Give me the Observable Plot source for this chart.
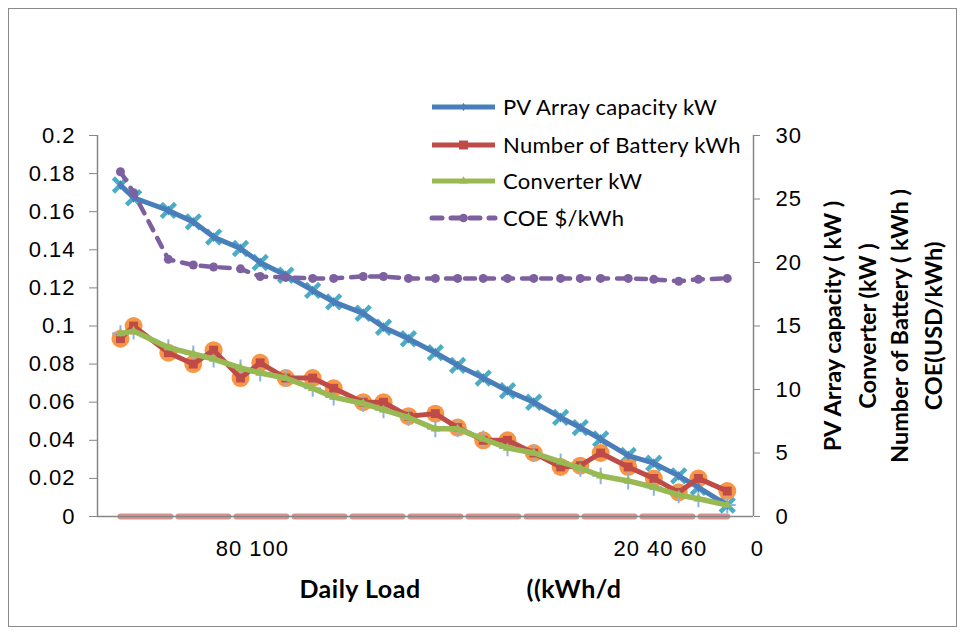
<!DOCTYPE html>
<html>
<head>
<meta charset="utf-8">
<script src="https://cdn.jsdelivr.net/npm/d3@7"></script>
<script src="https://cdn.jsdelivr.net/npm/@observablehq/plot@0.6"></script>
<style>
  html, body { margin: 0; padding: 0; background: #fff; }
  #wrap { position: relative; width: 967px; height: 633px; overflow: hidden; }
  #frame { position: absolute; left: 8px; top: 8px; width: 949px; height: 619px; border: 1.5px solid #8a8a8a; box-sizing: border-box; }
  .ytitle { position: absolute; font-family: Lato, sans-serif; font-weight: bold; font-size: 23.5px; color: #000; white-space: nowrap;
            transform: translate(-50%, -50%) rotate(-90deg); }
  .xtitle { position: absolute; font-family: Lato, sans-serif; font-weight: bold; font-size: 25px; letter-spacing: 0.5px; color: #000; white-space: nowrap; transform: translate(-50%, -50%); }
  #legend { position: absolute; left: 428px; top: 90px; }
</style>
</head>
<body>
<div id="wrap">
  <div id="frame"></div>
</div>
<script>
// ---- data ----
const loads = [3.5, 5.5, 10.8, 14.6, 17.7, 21.8, 24.8, 28.7, 32.8, 36.0, 40.5, 43.6, 47.4, 51.5, 54.9, 58.8, 62.5, 66.5, 70.6, 73.6, 76.7, 80.9, 84.8, 88.6, 91.6, 96.0];
const pvArray = [26.1, 25.1, 24.1, 23.2, 22.0, 21.1, 20.0, 19.0, 17.8, 16.9, 16.0, 14.9, 14.0, 12.9, 11.9, 10.9, 9.9, 9.0, 7.8, 7.0, 6.1, 4.8, 4.2, 3.2, 2.3, 0.9];
const battery = [14.0, 15.0, 12.9, 12.0, 13.1, 10.9, 12.1, 10.9, 10.9, 10.1, 9.0, 9.0, 7.9, 8.1, 7.0, 6.0, 6.0, 5.0, 3.9, 4.0, 5.0, 3.9, 3.0, 1.9, 3.0, 2.0];
const converter = [14.4, 14.6, 13.3, 12.8, 12.4, 11.7, 11.3, 10.9, 10.1, 9.4, 8.9, 8.4, 7.8, 6.9, 6.9, 6.1, 5.4, 5.0, 4.3, 3.8, 3.2, 2.8, 2.3, 1.7, 1.4, 0.9];
const coe = [0.181, 0.170, 0.135, 0.132, 0.131, 0.130, 0.126, 0.1255, 0.125, 0.125, 0.126, 0.126, 0.125, 0.125, 0.125, 0.125, 0.125, 0.125, 0.125, 0.125, 0.125, 0.125, 0.1245, 0.1235, 0.1245, 0.125];
const extraSeries = [0, 0, 0, 0, 0, 0, 0, 0, 0, 0, 0, 0, 0, 0, 0, 0, 0, 0, 0, 0, 0, 0, 0, 0, 0, 0];

const seriesNames = ["PV Array capacity kW", "Number of Battery kWh", "Converter kW", "COE $/kWh"];
const seriesColors = ["#4a7ebb", "#be4b48", "#98b954", "#7d60a0"];

const leftTicks = [0, 0.02, 0.04, 0.06, 0.08, 0.1, 0.12, 0.14, 0.16, 0.18, 0.2];
const rightTicks = [0, 5, 10, 15, 20, 25, 30];
const xTickLabels = ["80 100", "20 40 60", "0"];
const xTickPos = [23.6, 85.8, 100.6];
const rightTitles = ["PV Array capacity ( kW )", "Converter (kW )", "Number of Battery ( kWh )", "COE(USD/kWh)"];
const xTitleParts = ["Daily Load", "((kWh/d"];

// ---- table ----
const COE_TO_RIGHT = 150; // left axis 0..0.2 shares the frame with right axis 0..30
const rows = loads.map((x, i) => ({
  x, pv: pvArray[i], bat: battery[i], conv: converter[i], coe: coe[i] * COE_TO_RIGHT, extra: extraSeries[i]
}));

const axisColor = "#868686";
const chart = Plot.plot({
  width: 967,
  height: 633,
  marginLeft: 97,
  marginRight: 214,
  marginTop: 135,
  marginBottom: 117,
  style: { fontFamily: "'Liberation Sans', Arial, sans-serif", fontSize: "22px", letterSpacing: "1px", background: "transparent", overflow: "visible" },
  x: { domain: [0, 100], axis: null },
  y: { domain: [0, 30], axis: null },
  marks: [
    // helper/duplicate series
    Plot.lineY(rows, { x: "x", y: "extra", stroke: "#d9908f", strokeWidth: 6, strokeDasharray: "50,8" }),
    Plot.dot(rows, { x: "x", y: "pv", symbol: "times", r: 6.5, stroke: "#4bacc6", strokeWidth: 4.5 }),
    Plot.dot(rows, { x: "x", y: "bat", symbol: "circle", r: 9, fill: "#f79646", stroke: "none" }),
    Plot.dot(rows, { x: "x", y: "conv", symbol: "plus", r: 5.5, stroke: "#8db3e2", strokeWidth: 2 }),
    // main series
    Plot.lineY(rows, { x: "x", y: "pv", stroke: seriesColors[0], strokeWidth: 5 }),
    Plot.dot(rows, { x: "x", y: "pv", symbol: "diamond", r: 3, fill: seriesColors[0] }),
    Plot.lineY(rows, { x: "x", y: "bat", stroke: seriesColors[1], strokeWidth: 5 }),
    Plot.dot(rows, { x: "x", y: "bat", symbol: "square", r: 5, fill: seriesColors[1] }),
    Plot.lineY(rows, { x: "x", y: "conv", stroke: seriesColors[2], strokeWidth: 5.5 }),
    Plot.dot(rows, { x: "x", y: "conv", symbol: "triangle", r: 3.5, fill: seriesColors[2] }),
    Plot.lineY(rows, { x: "x", y: "coe", stroke: seriesColors[3], strokeWidth: 4.5, strokeDasharray: "10,9", strokeLinecap: "round" }),
    Plot.dot(rows, { x: "x", y: "coe", symbol: "circle", r: 4.5, fill: seriesColors[3] }),
    // axes lines
    Plot.ruleX([0], { stroke: axisColor, strokeWidth: 1.5 }),
    Plot.ruleX([100], { stroke: axisColor, strokeWidth: 1.5 }),
    Plot.ruleY([0], { stroke: axisColor, strokeWidth: 1.5 }),
    Plot.axisY(leftTicks.map(v => v * COE_TO_RIGHT), {
      anchor: "left", tickSize: 8, tickPadding: 14, stroke: axisColor, fill: "#000",
      tickFormat: d => String(+(d / COE_TO_RIGHT).toFixed(2)), label: null
    }),
    Plot.axisY(rightTicks, { anchor: "right", tickSize: 6, tickPadding: 16, stroke: axisColor, fill: "#000", label: null }),
    Plot.text(xTickLabels, { x: (d, i) => xTickPos[i], y: 0, dy: 32, text: d => d, fill: "#000", fontSize: 22 })
  ]
});
const wrap = document.getElementById("wrap");
chart.style.position = "absolute";
chart.style.left = "0px";
chart.style.top = "0px";
wrap.appendChild(chart);

// right axis titles
const titleX = [832, 867, 899, 933];
rightTitles.forEach((t, i) => {
  const d = document.createElement("div");
  d.className = "ytitle";
  d.textContent = t;
  d.style.left = titleX[i] + "px";
  d.style.top = "326px";
  wrap.appendChild(d);
});
// x title
const xTitleX = [360, 574];
xTitleParts.forEach((t, i) => {
  const d = document.createElement("div");
  d.className = "xtitle";
  d.textContent = t;
  d.style.left = xTitleX[i] + "px";
  d.style.top = "588px";
  wrap.appendChild(d);
});

// legend
const lg = d3.select(wrap).append("svg").attr("id", "legend").attr("width", 360).attr("height", 150);
const rowY = [17, 55, 91, 128];
seriesNames.forEach((name, i) => {
  const g = lg.append("g").attr("transform", `translate(0,${rowY[i]})`);
  const c = seriesColors[i];
  g.append("line").attr("x1", 4).attr("x2", 67).attr("y1", 0).attr("y2", 0)
    .attr("stroke", c).attr("stroke-width", 5)
    .attr("stroke-dasharray", i === 3 ? "10,9" : null)
    .attr("stroke-linecap", i === 3 ? "round" : "butt");
  const sym = [d3.symbolDiamond, d3.symbolSquare, d3.symbolTriangle, d3.symbolCircle][i];
  const size = [20, 80, 30, 60][i];
  g.append("path").attr("transform", "translate(35.5,0)").attr("d", d3.symbol(sym, size)()).attr("fill", c);
  g.append("text").attr("x", 75).attr("y", 0).attr("dy", "0.35em")
    .attr("font-family", "Lato, sans-serif").attr("font-size", 22).attr("letter-spacing", "0.3px").attr("fill", "#000").text(name);
});
</script>
</body>
</html>
